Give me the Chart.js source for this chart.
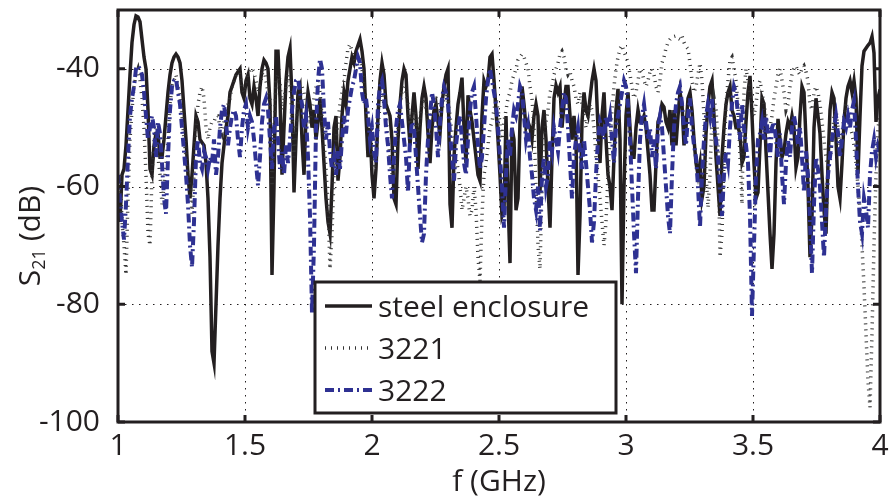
<!DOCTYPE html>
<html>
<head>
<meta charset="utf-8">
<script src="https://cdn.jsdelivr.net/npm/chart.js@4.4.0/dist/chart.umd.min.js"></script>
<style>
  html, body { margin: 0; padding: 0; background: #fff; }
  #wrap { width: 891px; height: 497px; }
</style>
</head>
<body>
<div id="wrap"><canvas id="s21" width="891" height="497"></canvas></div>
<script>
// frequency grid (GHz), 382 samples from 1 to 4 GHz
const nSamples = 382;
const freq = Array.from({length: nSamples}, (_, i) => 1 + i / 127);

const xTicks = [1, 1.5, 2, 2.5, 3, 3.5, 4];
const yTicks = [-100, -80, -60, -40];

// S21 (dB), steel enclosure
const steel = [
  -63,-66,-58,-57,-53,-47,-41,-35.5,-32.5,-31,
  -31.2,-32,-35,-38,-40,-47,-57,-58,-53,-51,
  -51,-55,-55,-52,-48,-44,-41,-39,-38,-37.5,
  -38,-39,-42,-47,-52,-58,-62,-58,-53,-48,
  -49,-52,-52.5,-53,-56,-62,-72,-88,-90,-80,
  -70,-62,-56,-53,-50,-48,-44,-43,-42,-41,
  -40.5,-40,-44,-45,-42,-41,-45,-46,-43,-45,
  -48,-43,-40,-38.5,-39,-40,-46,-75,-60,-37,
  -37,-45,-58,-50,-42,-38,-36.5,-45,-61,-52,
  -44,-43,-52,-58,-48,-44,-46,-50,-47,-52,
  -49,-45,-50,-56,-62,-66,-68,-60,-50,-48,
  -59,-55,-48,-44,-46,-42,-40,-38,-39,-37,
  -36,-35,-37,-40,-48,-55,-50,-58,-62,-57,
  -48,-42,-39,-41,-46,-47,-48,-52,-62,-63,
  -52,-46,-42,-40,-41,-48,-53,-48,-44,-48,
  -57,-50,-45,-43,-45,-51,-56,-50,-47,-46,
  -49,-51,-46,-43,-41,-40,-63,-67,-55,-50,
  -46,-44,-41.5,-50,-56,-44.5,-47,-49,-52,-55,
  -58,-59,-48,-42,-43,-42,-38,-37.5,-42,-47,
  -52,-58,-65,-64,-48,-62,-73,-50,-52,-64,
  -62,-49,-43,-46,-50,-49,-50,-52,-48,-46,
  -48,-61,-50,-47,-52,-60,-67,-55,-45,-42.8,
  -44,-43,-50,-46,-43,-43,-48,-52,-48,-52,
  -75,-65,-49,-44,-47,-48,-45,-42,-40,-42,
  -50,-56,-48,-44,-52,-58,-60,-64,-55,-47,
  -43.4,-52,-80,-60,-48,-44,-50,-55,-55,-50,
  -47,-49,-49,-48,-50,-54,-58,-64,-64,-56,
  -49,-48,-46,-46.5,-49,-50,-47,-53,-47,-53,
  -48,-44,-46,-53,-50,-45,-44,-47,-52,-56,
  -58,-56,-62,-60,-51,-46,-43,-42,-48,-55,
  -60,-65,-55,-50,-46,-44,-43,-47,-48,-50,
  -50,-51,-56,-55,-49,-44,-41.2,-48,-56,-62,
  -61,-53,-45,-46,-54,-61,-68,-74,-68,-56,
  -48.5,-52,-55,-54,-51,-49,-50,-48,-50,-56.8,
  -55,-48,-43,-44,-52,-60,-72,-65,-50,-45,
  -48,-51,-58,-64,-68,-56,-47,-44,-45,-52,
  -60,-62,-56,-49,-45,-43,-42,-44,-42,-45,
  -57.8,-48,-39.5,-37,-36.5,-36,-35.6,-34.5,-37.3,-49,
  -45,-43.5
];

// S21 (dB), 3221
const s3221 = [
  -62,-58,-66,-70,-75,-62,-52,-47,-43,-41,
  -40,-42,-45,-50,-58,-68,-70,-58,-52,-50,
  -55,-58,-63,-60,-56,-52,-46,-43,-42,-41,
  -43,-45,-48,-52,-55,-58,-60,-64.6,-58,-50,
  -46,-44,-43,-45,-50,-52,-50,-49,-49,-48,
  -48,-50,-51,-49,-47,-46,-45,-43,-42,-41,
  -40,-41,-43,-44,-42,-41,-40,-40,-40.5,-42,
  -44,-43,-41,-40,-42,-44,-45,-60,-52,-42,
  -41,-42,-47,-45,-43,-41,-43,-48,-55,-50,
  -46,-44,-43,-44,-46,-49,-49,-47,-45,-43,
  -42,-44,-48,-52,-57,-63,-74,-68,-58,-52,
  -49,-46,-44,-42,-39,-36.5,-35.8,-37,-38,-39,
  -39.5,-38,-40,-43,-45,-48,-52,-55,-57,-55,
  -50,-46,-44,-46,-48,-52,-55,-58,-57,-53,
  -50,-46,-44,-43,-44,-46,-49,-49,-47,-50,
  -51,-48,-46,-45,-47,-49,-49,-47,-45,-45,
  -46,-47,-47,-45,-44,-45,-48,-51,-53,-55,
  -57,-60,-64,-62,-60,-62,-65,-64,-60,-64,
  -72,-76,-65,-58,-56,-53,-50,-49,-47,-45,
  -47,-49,-52,-49,-47,-45,-44,-42,-41,-40,
  -38.5,-38,-37.5,-38,-39,-40,-43,-45,-50,-60,
  -70,-74,-60,-52,-49,-47,-44,-43,-41,-40,
  -39,-37.5,-37,-38,-40,-41,-40.5,-42,-43,-45,
  -46,-44,-46,-48,-50,-48,-46,-47,-50,-55,
  -58,-62,-66,-70,-66,-58,-52,-47,-43,-40,
  -38,-36.5,-36,-37,-38,-39,-41,-43,-45,-44,
  -42,-40,-40.5,-42,-43,-42,-40.5,-40,-41,-43,
  -44,-42,-39,-38,-36.5,-35.5,-35,-34.6,-34.5,-34.4,
  -34.8,-35,-34.4,-35.5,-36.2,-36.6,-39,-42,-44,-43,
  -41,-39,-42,-48,-58,-63.6,-58,-48,-45,-47,
  -52,-72,-68,-55,-46,-42,-38.5,-38,-40,-42,
  -46,-55,-63,-44,-40,-42,-44,-46,-48,-46,
  -43,-42,-44,-46,-48,-51,-50,-48,-45,-43,
  -41,-40,-42,-44,-47,-46,-43,-41,-40,-39.5,
  -40.5,-41,-40,-39.5,-40.5,-42,-46,-47,-44,-43,
  -44,-46,-49,-52,-55,-57,-56,-52,-48,-47,
  -50,-53,-51,-48,-46,-47,-50,-51,-53,-56,
  -60,-64,-70,-77,-85,-93,-97.5,-85,-70,-58,
  -50,-48
];

// S21 (dB), 3222
const s3222 = [
  -58,-62,-66,-69,-63,-55,-48,-45,-43,-40,
  -39.5,-40,-41,-44,-48,-52,-50,-48,-50,-55,
  -49,-51,-56,-62,-64.6,-55,-47,-43,-42,-41.7,
  -44,-46,-50,-54,-58,-63,-70,-73.7,-66,-55,
  -52,-56,-57,-54,-55,-57,-55,-56,-52,-58,
  -55,-50,-47,-46,-49,-53,-50,-48,-47,-48,
  -52,-55,-50,-47,-46,-50,-48,-49,-52,-56,
  -59.8,-55,-49,-46,-45,-47,-52,-57,-50,-48,
  -52,-57,-54,-58,-53,-56,-52,-47,-44,-42,
  -41.7,-44,-46,-50,-48,-55,-65,-81.5,-70,-50,
  -42,-38.3,-40,-47,-52,-49,-54,-57,-55,-58,
  -54,-57,-52,-48,-51,-47,-45,-43,-42,-40,
  -38,-39,-44,-46,-45,-48,-52,-50,-54,-56,
  -46,-43,-42,-45,-50,-53,-58,-62,-55,-50,
  -47,-46,-49,-52,-55,-61,-52,-49,-50,-55,
  -60,-65,-69.5,-68,-58,-52,-48,-44,-46,-50,
  -55,-49,-45,-43,-44,-46,-51,-55,-59,-53,
  -50,-48,-52,-56,-58,-52,-47,-44,-43,-48,
  -53,-57,-55,-50,-45,-42,-40,-42,-44,-46,
  -50,-55,-60,-67,-58,-52,-55,-50,-47,-48,
  -46,-43,-44,-48,-52,-50,-55,-58,-62,-64,
  -60,-67.5,-58,-55,-60,-58,-52,-54,-50,-52,
  -54,-50,-47,-44,-45,-50,-56,-62,-55,-52,
  -50,-54,-57,-52,-56,-60,-64,-69.5,-66,-58,
  -52,-49,-50,-52,-48,-50,-48,-52,-56,-50,
  -48,-46,-44,-42,-43,-46,-52,-60,-68,-74.7,
  -62,-52,-48,-46,-49,-52,-50,-55,-52,-57,
  -50,-48,-50,-55,-60,-65,-68,-58,-50,-46,
  -44,-43,-46,-50,-53,-48,-45,-50,-53,-55,
  -60,-67,-58,-52,-48,-46,-48,-45,-50,-52,
  -55,-60,-65,-58,-54,-56,-50,-46,-43,-44,
  -48,-52,-46,-50,-53,-56,-65,-82,-70,-58,
  -52,-51,-49,-52,-48,-51,-55,-50,-49,-52,
  -55,-51,-58,-63,-56,-52,-55,-50,-48,-50,
  -53,-50,-55,-61,-54,-58,-66,-74.7,-63,-55,
  -57,-60,-66,-72,-64,-58,-55,-52,-50,-48,
  -51,-55,-52,-49,-50,-48,-50,-47,-45.5,-52,
  -60,-66,-68,-62,-64,-67,-58,-54,-52,-55,
  -53,-54
];

const ink = '#231f20';
const blue = '#2e3192';
const fontFam = '"Open Sans", "DejaVu Sans", sans-serif';

const series = [
  {label: 'steel enclosure', vals: steel, color: ink, width: 3.5, dash: [], order: 2},
  {label: '3221', vals: s3221, color: '#333333', width: 3.5, dash: [1, 5], order: 1},
  {label: '3222', vals: s3222, color: blue, width: 4, dash: [9, 4, 2, 4], order: 0}
];

const toPoints = vals => vals.map((v, i) => ({x: freq[i], y: v}));

// grid, frame, inner ticks, legend box and y title (with subscript)
const decorations = {
  id: 'decorations',
  beforeDatasetsDraw(chart) {
    const {ctx, chartArea: a, scales: {x, y}} = chart;
    ctx.save();
    ctx.strokeStyle = ink;
    ctx.lineWidth = 1;
    ctx.setLineDash([1.5, 5.5]);
    ctx.beginPath();
    xTicks.forEach(v => {
      const px = Math.round(x.getPixelForValue(v)) + 0.5;
      ctx.moveTo(px, a.top); ctx.lineTo(px, a.bottom);
    });
    yTicks.forEach(v => {
      const py = Math.round(y.getPixelForValue(v)) + 0.5;
      ctx.moveTo(a.left, py); ctx.lineTo(a.right, py);
    });
    ctx.stroke();
    ctx.restore();
  },
  afterDatasetsDraw(chart) {
    const {ctx, scales: {x, y}} = chart;
    const l = x.getPixelForValue(1), r = x.getPixelForValue(4);
    const t = y.getPixelForValue(-30), b = y.getPixelForValue(-100);
    ctx.save();
    ctx.setLineDash([]);
    ctx.strokeStyle = ink;
    ctx.lineWidth = 3;
    ctx.lineJoin = 'miter';
    ctx.beginPath();
    ctx.moveTo(l, t); ctx.lineTo(r, t); ctx.lineTo(r, b); ctx.lineTo(l, b); ctx.closePath();
    ctx.stroke();
    ctx.beginPath();
    xTicks.forEach(v => {
      const px = x.getPixelForValue(v);
      ctx.moveTo(px, b); ctx.lineTo(px, b - 7);
      ctx.moveTo(px, t); ctx.lineTo(px, t + 7);
    });
    yTicks.forEach(v => {
      const py = y.getPixelForValue(v);
      ctx.moveTo(l, py); ctx.lineTo(l + 7, py);
      ctx.moveTo(r, py); ctx.lineTo(r - 7, py);
    });
    ctx.stroke();

    // legend
    const bx = 315, by = 282, bw = 301, bh = 131;
    ctx.fillStyle = '#fff';
    ctx.fillRect(bx, by, bw, bh);
    ctx.strokeRect(bx, by, bw, bh);
    ctx.font = '30px ' + fontFam;
    ctx.textBaseline = 'middle';
    ctx.textAlign = 'left';
    series.forEach((s, i) => {
      const ly = by + 24 + i * 42;
      ctx.save();
      ctx.strokeStyle = s.color;
      ctx.lineWidth = s.width;
      ctx.setLineDash(s.dash);
      ctx.beginPath();
      ctx.moveTo(bx + 10, ly); ctx.lineTo(bx + 57, ly);
      ctx.stroke();
      ctx.restore();
      ctx.fillStyle = ink;
      ctx.fillText(s.label, bx + 63, ly + 2);
    });
    ctx.restore();
  },
  afterDraw(chart) {
    const {ctx} = chart;
    ctx.save();
    ctx.fillStyle = ink;
    ctx.translate(40, 236);
    ctx.rotate(-Math.PI / 2);
    ctx.textBaseline = 'alphabetic';
    const big = '30px ' + fontFam, small = '18px ' + fontFam;
    ctx.font = big;
    const wS = ctx.measureText('S').width;
    const wRest = ctx.measureText(' (dB)').width;
    ctx.font = small;
    const wSub = ctx.measureText('21').width;
    let xs = -(wS + wSub + wRest) / 2;
    ctx.font = big; ctx.fillText('S', xs, 0);
    ctx.font = small; ctx.fillText('21', xs + wS, 5);
    ctx.font = big; ctx.fillText(' (dB)', xs + wS + wSub, 0);
    ctx.restore();
  }
};

new Chart(document.getElementById('s21'), {
  type: 'line',
  data: {
    datasets: series.map(s => ({
      label: s.label,
      data: toPoints(s.vals),
      borderColor: s.color,
      borderWidth: s.width,
      borderDash: s.dash,
      borderCapStyle: 'butt',
      borderJoinStyle: 'miter',
      pointRadius: 0,
      tension: 0,
      fill: false,
      order: s.order
    }))
  },
  options: {
    responsive: false,
    animation: false,
    devicePixelRatio: 1,
    layout: {padding: {left: 0, right: 11, top: 10, bottom: 0}},
    plugins: {legend: {display: false}, tooltip: {enabled: false}},
    scales: {
      x: {
        type: 'linear', min: 1, max: 4,
        afterBuildTicks: s => { s.ticks = xTicks.map(v => ({value: v})); },
        afterFit: s => {
          s.height = 75;
          s.paddingLeft = 0; s.paddingRight = 0;
        },
        grid: {display: false},
        border: {display: false},
        ticks: {
          color: ink, padding: -2, maxRotation: 0, autoSkip: false,
          font: {family: fontFam, size: 30},
          callback: v => String(v)
        },
        title: {display: true, text: 'f (GHz)', color: ink, padding: {top: 0, bottom: -3},
                font: {family: fontFam, size: 30}}
      },
      y: {
        min: -100, max: -30,
        afterBuildTicks: s => { s.ticks = yTicks.map(v => ({value: v})); },
        afterFit: s => {
          s.width = 118;
          s.paddingTop = 0; s.paddingBottom = 0;
        },
        grid: {display: false},
        border: {display: false},
        ticks: {
          color: ink, padding: 10,
          font: {family: fontFam, size: 30},
          callback: v => String(v)
        }
      }
    }
  },
  plugins: [decorations]
});
</script>
</body>
</html>
